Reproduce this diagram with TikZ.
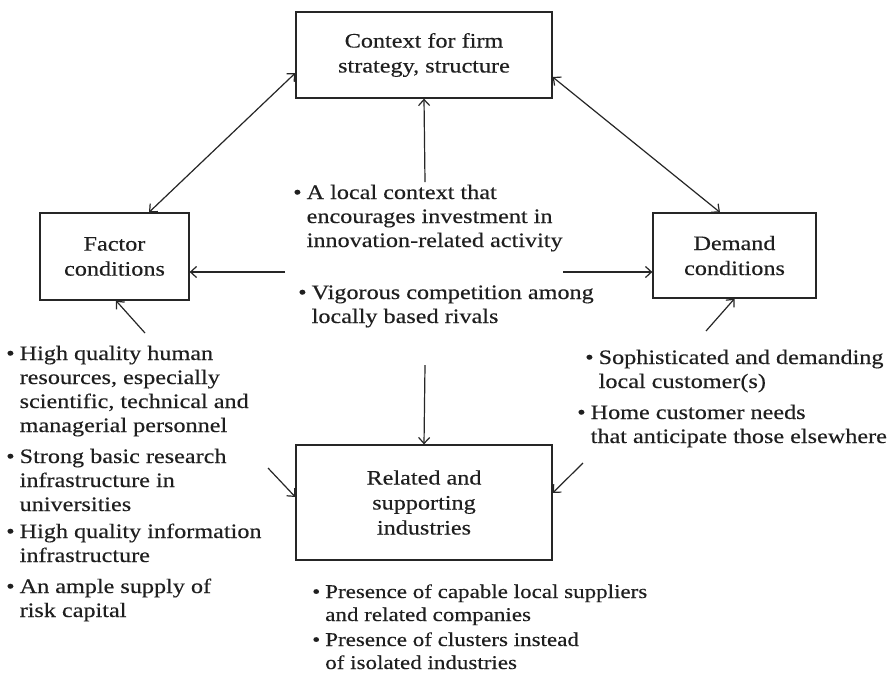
\documentclass[tikz,border=0pt]{standalone}
\usepackage{fontspec}
\setmainfont[FakeStretch=1.18,FakeBold=0.3]{Liberation Serif}
\usetikzlibrary{arrows.meta,calc}
\begin{document}
\begin{tikzpicture}[x=1pt,y=-1pt,
  box/.style={draw=black!85,line width=1.3pt,inner sep=0pt,align=center,font=\fontsize{20.5}{25}\selectfont,text=black!88},
  item/.style={anchor=base west,inner sep=0pt,font=\fontsize{20.5}{24}\selectfont,text=black!88},
  conn/.style={draw=black!85,line width=1.2pt,-{Straight Barb[length=6pt,width=11pt,line width=1.2pt]}},
  dconn/.style={conn,{Straight Barb[length=6pt,width=11pt,line width=1.2pt]}-{Straight Barb[length=6pt,width=11pt,line width=1.2pt]}}
]
\useasboundingbox (0,0) rectangle (890,678);
\fill[white] (0,0) rectangle (890,678);
\newcommand{\bul}[2]{\begin{tabular}[t]{@{}l@{\hspace{5pt}}l@{}}\textbullet&#1\\&#2\end{tabular}}
\newcommand{\bulthree}[4]{\begin{tabular}[t]{@{}l@{\hspace{5pt}}l@{}}\textbullet&#1\\&#2\\&#3\\&#4\end{tabular}}
\newcommand{\bulthr}[3]{\begin{tabular}[t]{@{}l@{\hspace{5pt}}l@{}}\textbullet&#1\\&#2\\&#3\end{tabular}}

% boxes
\node[box,minimum width=256pt,minimum height=86pt] (ctx) at (424,55) {Context for firm\\strategy, structure};
\node[box,minimum width=149pt,minimum height=87pt] (fac) at (114.5,256.5) {Factor\\conditions};
\node[box,minimum width=163pt,minimum height=85pt] (dem) at (734.5,255.5) {Demand\\conditions};
\node[box,minimum width=256pt,minimum height=115pt] (rel) at (424,502.5) {Related and\\supporting\\industries};

% center texts
\node[item] (c1) at (293,199) {\bulthr{A local context that}{encourages investment in}{innovation-related activity}};
\node[item] (c2) at (298,299) {\bul{Vigorous competition among}{locally based rivals}};

% left texts
\node[item] (l1) at (6,360) {\bulthree{High quality human}{resources, especially}{scientific, technical and}{managerial personnel}};
\node[item] (l2) at (6,463) {\bulthr{Strong basic research}{infrastructure in}{universities}};
\node[item] (l3) at (6,538) {\bul{High quality information}{infrastructure}};
\node[item] (l4) at (6,593) {\bul{An ample supply of}{risk capital}};

% right texts
\node[item] (r1) at (585,364) {\bul{Sophisticated and demanding}{local customer(s)}};
\node[item] (r2) at (577,419) {\bul{Home customer needs}{that anticipate those elsewhere}};

% bottom texts
\node[item,font=\fontsize{19.5}{23}\selectfont] (b1) at (312,598) {\bul{Presence of capable local suppliers}{and related companies}};
\node[item,font=\fontsize{19.5}{23}\selectfont] (b2) at (312,646) {\bul{Presence of clusters instead}{of isolated industries}};

% free ends
\coordinate (cu) at (425,182);
\coordinate (cl) at (285,272);
\coordinate (cr) at (563,272);
\coordinate (cd) at (425,365);
\coordinate (fl) at (145,333);
\coordinate (dr) at (706,331);
\coordinate (rl) at (268,468);
\coordinate (rr) at (583,463);

% connectors
\draw[dconn] ([xshift=34.5pt]fac.north) -- ([yshift=-18pt]ctx.west);
\draw[dconn] ([yshift=-22pt]ctx.east) -- ([xshift=-14.5pt]dem.north);
\draw[conn] (cu) -- (ctx.south);
\draw[conn] (cl) -- ([yshift=-15.5pt]fac.east);
\draw[conn] (cr) -- ([yshift=-16.5pt]dem.west);
\draw[conn] (cd) -- (rel.north);
\draw[conn] (fl) -- ([xshift=1.5pt]fac.south);
\draw[conn] (dr) -- (dem.south);
\draw[conn] (rl) -- ([yshift=5.5pt]rel.west);
\draw[conn] (rr) -- ([yshift=9.5pt]rel.east);
\end{tikzpicture}
\end{document}
